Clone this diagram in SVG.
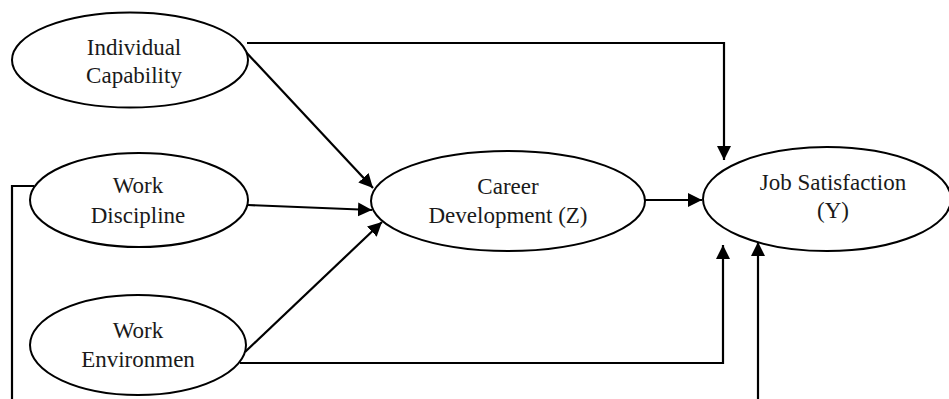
<svg xmlns="http://www.w3.org/2000/svg" width="949" height="399" viewBox="0 0 949 399">
<style>
.node ellipse{fill:#fff;stroke:#000;stroke-width:2}
.node text{font-family:"Liberation Serif","Times New Roman",serif;font-size:23px;fill:#1a1a1a;text-anchor:middle}
.edges path{fill:none;stroke:#000;stroke-width:2.2}
</style>
<defs>
<marker id="ah" markerUnits="userSpaceOnUse" markerWidth="16" markerHeight="16" refX="14" refY="7" orient="auto">
<path d="M0,0 L14,7 L0,14 z" fill="#000"/>
</marker>
</defs>
<rect width="949" height="399" fill="#fff"/>
<g class="edges">
<path d="M247,43 H724 V160" marker-end="url(#ah)"/>
<path d="M244,50 L373,188" marker-end="url(#ah)"/>
<path d="M248,205 L372,210" marker-end="url(#ah)"/>
<path d="M245,352 L382,222" marker-end="url(#ah)"/>
<path d="M240,363 H723 V245" marker-end="url(#ah)"/>
<path d="M645,200 H702" marker-end="url(#ah)"/>
<path d="M34,186 H12 V399"/>
<path d="M758,399 V242" marker-end="url(#ah)"/>
</g>
<g id="individual" class="node">
<ellipse cx="130" cy="60" rx="118" ry="47.5"/>
<text x="134" y="55">Individual</text>
<text x="134" y="83">Capability</text>
</g>
<g id="discipline" class="node">
<ellipse cx="139" cy="200" rx="109" ry="47"/>
<text x="138" y="193">Work</text>
<text x="138" y="223">Discipline</text>
</g>
<g id="environment" class="node">
<ellipse cx="138" cy="345" rx="108" ry="50"/>
<text x="138" y="338">Work</text>
<text x="138" y="367">Environmen</text>
</g>
<g id="career" class="node">
<ellipse cx="508" cy="201" rx="137" ry="50"/>
<text x="508" y="194">Career</text>
<text x="508" y="223">Development (Z)</text>
</g>
<g id="job" class="node">
<ellipse cx="827" cy="199" rx="124" ry="52"/>
<text x="833" y="190">Job Satisfaction</text>
<text x="833" y="218">(Y)</text>
</g>
</svg>
